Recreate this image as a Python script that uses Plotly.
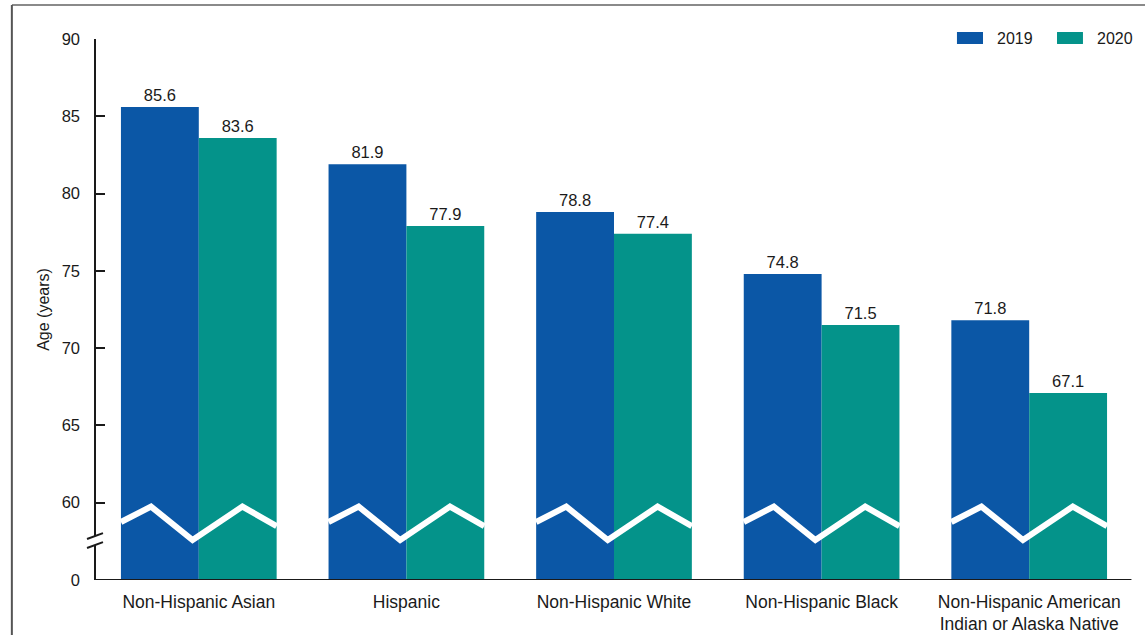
import plotly.graph_objects as go

# Life expectancy at birth by Hispanic origin and race
groups = [
    "Non-Hispanic Asian",
    "Hispanic",
    "Non-Hispanic White",
    "Non-Hispanic Black",
    "Non-Hispanic American<br>Indian or Alaska Native",
]
years = ["2019", "2020"]
values_2019 = [85.6, 81.9, 78.8, 74.8, 71.8]
values_2020 = [83.6, 77.9, 77.4, 71.5, 67.1]
colors = ["#0B57A6", "#04938A"]

# broken axis: the bottom of the visible range (55) is labelled 0
tick_vals = [55, 60, 65, 70, 75, 80, 85, 90]
tick_text = ["0", "60", "65", "70", "75", "80", "85", "90"]

FONT = "Arial, Liberation Sans, sans-serif"
INK = "#1a1a1a"

fig = go.Figure()
for name, vals, col in zip(years, [values_2019, values_2020], colors):
    fig.add_trace(go.Bar(
        x=groups, y=vals, name=name, marker=dict(color=col, line=dict(width=0)),
        text=[f"{v:.1f}" for v in vals], textposition="outside",
        textfont=dict(size=16.5, color=INK, family=FONT),
        showlegend=False,
    ))

shapes = []

# white zigzag "break" band across each pair of bars
zx = [-0.375, -0.23, -0.03, 0.21, 0.375]
zy = [58.75, 59.75, 57.59, 59.75, 58.49]
for i in range(len(groups)):
    path = "M " + " L ".join(f"{i + dx},{dy}" for dx, dy in zip(zx, zy))
    shapes.append(dict(type="path", xref="x", yref="y", path=path,
                       line=dict(color="white", width=6), layer="above"))

# y axis line with a gap and two slashes marking the break
ax = dict(color=INK, width=2)
shapes.append(dict(type="line", xref="paper", yref="y", x0=0, x1=0, y0=90, y1=57.84, line=ax, layer="above"))
shapes.append(dict(type="line", xref="paper", yref="y", x0=0, x1=0, y0=57.26, y1=55, line=ax, layer="above"))
for yc in (57.84, 57.26):
    shapes.append(dict(type="line", xref="paper", yref="y", x0=-0.0077, x1=0.0077,
                       y0=yc - 0.19, y1=yc + 0.19, line=ax, layer="above"))

# x axis line
shapes.append(dict(type="line", xref="paper", yref="y", x0=0, x1=0.9985, y0=55, y1=55, line=ax, layer="above"))

# frame lines at top and left of the figure
shapes.append(dict(type="line", xref="paper", yref="paper", x0=-0.08, x1=1.02, y0=1.0628, y1=1.0628,
                   line=dict(color="#8a8a8a", width=2)))
shapes.append(dict(type="line", xref="paper", yref="paper", x0=-0.0801, x1=-0.0801, y0=1.0628, y1=-0.12,
                   line=dict(color="#555555", width=2)))

# legend swatches and labels
annotations = []
for col, name, sx0, sx1, tx in [(colors[0], years[0], 0.8304, 0.8555, 0.867),
                                 (colors[1], years[1], 0.9268, 0.9518, 0.9634)]:
    shapes.append(dict(type="rect", xref="paper", yref="paper", x0=sx0, x1=sx1,
                       y0=0.9908, y1=1.0129, fillcolor=col, line=dict(width=0)))
    annotations.append(dict(xref="paper", yref="paper", x=tx, y=1.0018, text=name,
                            showarrow=False, xanchor="left", yanchor="middle",
                            font=dict(size=16, color=INK, family=FONT)))

fig.update_layout(
    width=1145, height=635,
    margin=dict(l=95, r=12, t=39, b=55),
    paper_bgcolor="white", plot_bgcolor="white",
    barmode="group", bargap=0.25, bargroupgap=0,
    font=dict(family=FONT, color=INK),
    shapes=shapes, annotations=annotations,
    xaxis=dict(
        type="category", showgrid=False, showline=False, zeroline=False,
        ticks="", tickfont=dict(size=17.5, color=INK, family=FONT),
        ticklabelstandoff=9, range=[-0.5, 4.5], automargin=False,
    ),
    yaxis=dict(
        range=[55, 90], tickvals=tick_vals, ticktext=tick_text,
        showgrid=False, showline=False, zeroline=False,
        ticks="inside", ticklen=10, tickwidth=2, tickcolor=INK,
        tickfont=dict(size=16.5, color=INK, family=FONT),
        ticklabelstandoff=14, automargin=False,
        title=dict(text="Age (years)", font=dict(size=16, color=INK, family=FONT), standoff=8),
    ),
)

fig.write_html("out.html")
